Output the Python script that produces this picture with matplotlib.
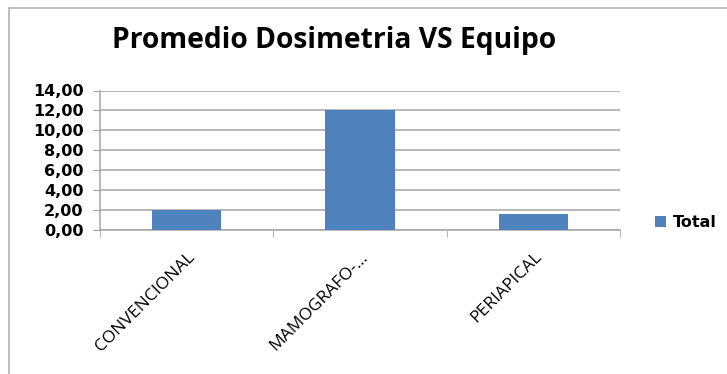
import numpy as np
import matplotlib.pyplot as plt
from matplotlib.patches import Rectangle
from matplotlib.ticker import FuncFormatter

# Datos: promedio de dosimetria por equipo
equipos = ['CONVENCIONAL', 'MAMOGRAFO-...', 'PERIAPICAL']
promedios = [2.0, 12.0, 1.55]
y_ticks = [0, 2, 4, 6, 8, 10, 12, 14]

color_barra = '#4F81BD'
gris = '#A6A6A6'

fig = plt.figure(figsize=(7.27, 3.74), dpi=100)
W, H = 727, 374

# Borde del area del grafico
fig.patches.append(Rectangle((8.5 / W, -0.1), 1.2, 1 - 8.5 / H + 0.1,
                             transform=fig.transFigure, fill=False,
                             edgecolor='#B4B4B4', linewidth=1.2))

ax = fig.add_axes([100 / W, 1 - 229.5 / H, 520 / W, 139 / H])
x = np.arange(len(equipos))
ax.bar(x, promedios, width=0.4, color=color_barra, zorder=3, label='Total')

ax.set_xlim(-0.5, len(equipos) - 0.5)
ax.set_ylim(0, 14)
ax.set_yticks(y_ticks)
ax.yaxis.set_major_formatter(FuncFormatter(lambda v, p: f'{v:.2f}'.replace('.', ',')))
for lbl in ax.get_yticklabels():
    lbl.set_fontweight('bold')
ax.tick_params(axis='y', labelsize=11.5, length=5, color=gris, pad=7)
ax.grid(axis='y', color=gris, linewidth=1.1, zorder=0)

# Marcas entre categorias y etiquetas giradas
ax.set_xticks(x)
ax.set_xticklabels(equipos, rotation=45, ha='right', rotation_mode='anchor',
                   fontsize=12.5, family='Open Sans')
ax.set_xticks(np.arange(-0.5, len(equipos)), minor=True)
ax.tick_params(axis='x', which='major', length=0, pad=14)
ax.tick_params(axis='x', which='minor', length=5, color=gris)

for s in ['top', 'right']:
    ax.spines[s].set_visible(False)
for s in ['left', 'bottom']:
    ax.spines[s].set_color(gris)
    ax.spines[s].set_linewidth(1.1)

fig.text(334 / W, 1 - 48 / H, 'Promedio Dosimetria VS Equipo', ha='center',
         va='baseline', fontsize=20.3, fontweight='bold', family='Open Sans')

fig.legend(loc='center left', bbox_to_anchor=(647 / W, 1 - 222.5 / H),
           frameon=False, handlelength=0.7, handleheight=0.7, handletextpad=0.4,
           borderpad=0, prop={'weight': 'bold', 'size': 11.5})

fig.savefig('out.png', dpi=100)
